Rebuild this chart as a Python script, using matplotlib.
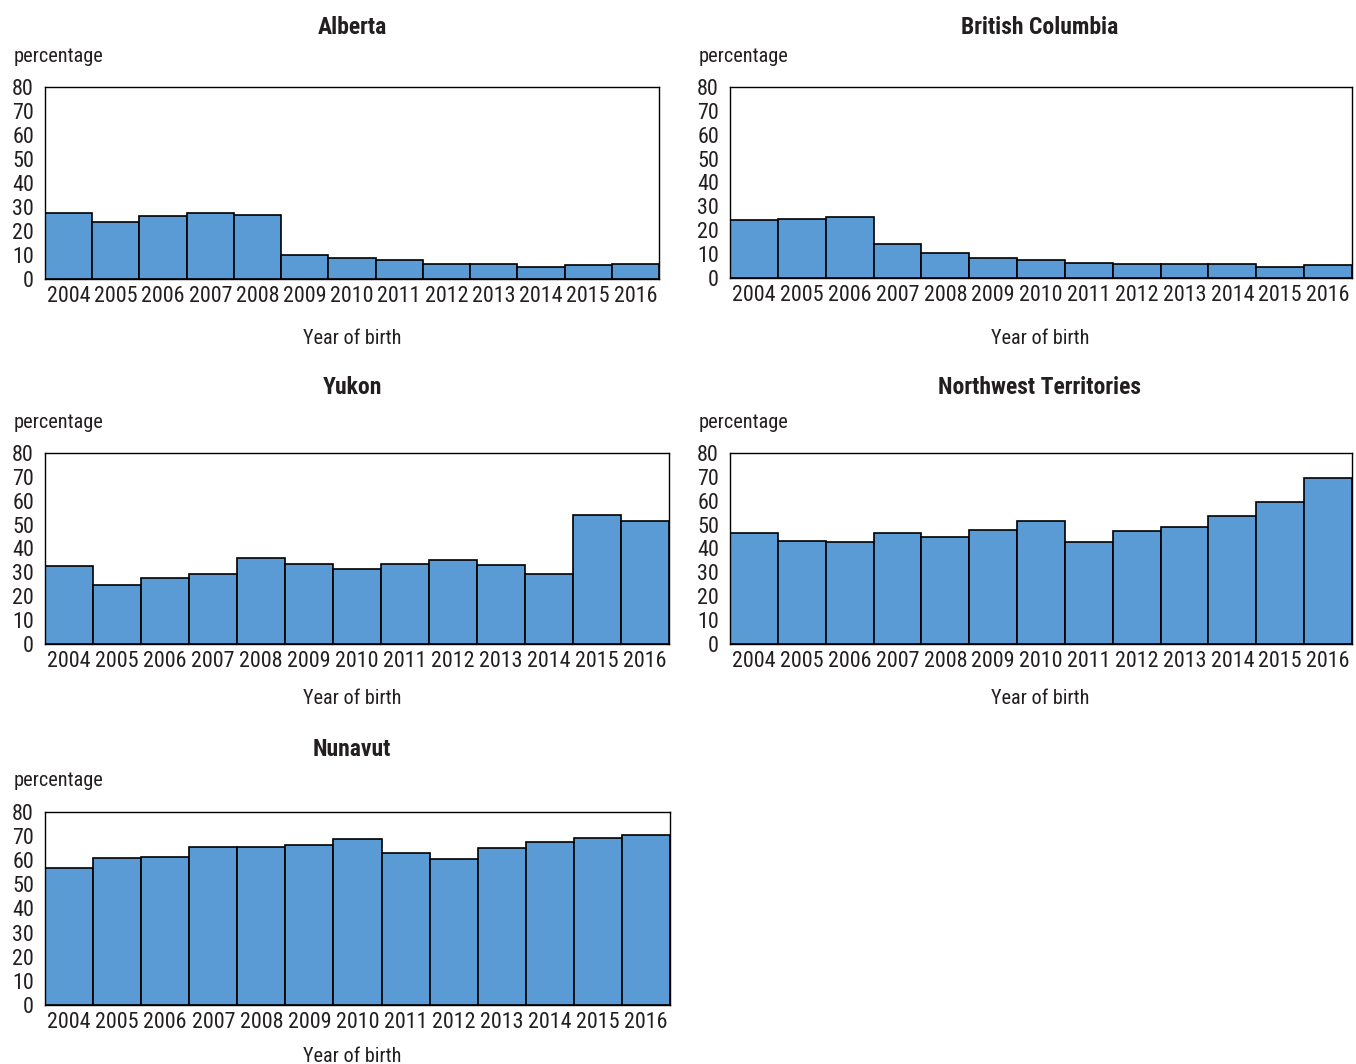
import matplotlib
matplotlib.use("Agg")
import matplotlib.pyplot as plt
import matplotlib.font_manager as fm
from matplotlib.textpath import TextPath
import numpy as np

years = ["2004", "2005", "2006", "2007", "2008", "2009", "2010",
         "2011", "2012", "2013", "2014", "2015", "2016"]

alberta = [27.4, 23.8, 26.4, 27.4, 26.8, 10.1, 8.9, 7.9, 6.4, 6.4, 5.1, 5.8, 6.4]
british_columbia = [24.3, 24.9, 25.4, 14.2, 10.5, 8.4, 7.4, 6.3, 5.9, 5.9, 5.9, 4.6, 5.3]
yukon = [32.5, 24.7, 27.7, 29.5, 36.2, 33.7, 31.6, 33.6, 35.1, 33.2, 29.4, 54.2, 51.4]
northwest_territories = [46.3, 43.2, 42.6, 46.3, 44.7, 47.8, 51.6, 42.6, 47.2, 48.9, 53.7, 59.4, 69.4]
nunavut = [56.7, 60.9, 61.5, 65.6, 65.6, 66.2, 68.8, 63.0, 60.5, 65.2, 67.7, 69.3, 70.4]

y_ticks = [0, 10, 20, 30, 40, 50, 60, 70, 80]


# ---- font selection: prefer a narrow sans if one is installed ----
def _weight(w):
    if isinstance(w, (int, float)):
        return int(w)
    return fm.weight_dict.get(str(w).lower(), 400)


def pick_font(target_weight):
    prefs = ["liberation sans narrow", "arial narrow", "roboto condensed",
             "noto sans", "open sans", "dejavu sans", "roboto"]
    best = None
    for f in fm.fontManager.ttflist:
        fn = f.fname.lower()
        nm = f.name.lower()
        tag = fn + " " + nm
        if "italic" in tag or "oblique" in tag:
            continue
        narrow = ("condensed" in tag or "narrow" in tag) and not any(
            k in tag for k in ("extracondensed", "extra condensed", "ultra", "semicondensed", "semi condensed"))
        if not narrow:
            continue
        rank = len(prefs)
        for i, p in enumerate(prefs):
            if nm.startswith(p):
                rank = i
                break
        key = (rank, abs(_weight(f.weight) - target_weight))
        if best is None or key < best[0]:
            best = (key, f.fname)
    if best is not None:
        return fm.FontProperties(fname=best[1])
    return fm.FontProperties(family="DejaVu Sans",
                             weight="bold" if target_weight >= 600 else "normal")


FP_REG = pick_font(400)
FP_BOLD = pick_font(700)


def size_for(text, prop, width_px):
    """Font size (pt) that makes `text` about `width_px` wide at 100 dpi."""
    w = TextPath((0, 0), text, size=100, prop=prop).get_extents().width
    return width_px / (w / 100.0) * 0.72


tick_size = min(size_for("2004", FP_REG, 42), 16)
title_size = min(size_for("Northwest Territories", FP_BOLD, 202), 17)
label_size = min(size_for("Year of birth", FP_REG, 97), 16)

W, H = 1356, 1064
fig = plt.figure(figsize=(W / 100, H / 100), dpi=100)

TEXT = "#231f20"
BAR = "#5b9bd5"

# (title, values, axes box left/top/right/bottom, column centre x,
#  title y, unit y, unit x, xlabel y) in pixels
panels = [
    ("Alberta", alberta, (45, 87, 659, 279), 352, 28, 57, 14, 339),
    ("British Columbia", british_columbia, (730, 87, 1352, 278), 1040, 28, 57, 699, 339),
    ("Yukon", yukon, (45, 453, 669, 644), 352, 388, 423, 14, 699),
    ("Northwest Territories", northwest_territories, (730, 453, 1352, 644), 1040, 388, 423, 699, 699),
    ("Nunavut", nunavut, (45, 812, 670, 1005), 352, 749, 781, 14, 1057),
]

for title, values, (l, t, r, b), cx, ty, uy, ux, xy in panels:
    ax = fig.add_axes([l / W, 1 - b / H, (r - l) / W, (b - t) / H])
    x = np.arange(len(years))
    ax.bar(x, values, width=1.0, color=BAR, edgecolor="black", linewidth=1.2)
    ax.set_xlim(-0.5, len(years) - 0.5)
    ax.set_ylim(0, 80)
    ax.set_yticks(y_ticks)
    ax.set_xticks(x)
    ax.tick_params(axis="both", length=0, colors=TEXT)
    ax.tick_params(axis="x", pad=5)
    ax.tick_params(axis="y", pad=8)
    ax.set_xticklabels(years, fontproperties=FP_REG, fontsize=tick_size, color=TEXT)
    ax.set_yticklabels([str(v) for v in y_ticks], fontproperties=FP_REG,
                       fontsize=tick_size, color=TEXT)
    for s in ax.spines.values():
        s.set_color("black")
        s.set_linewidth(1.0)
    fig.text(cx / W, 1 - ty / H, title, ha="center", va="center",
             fontproperties=FP_BOLD, fontsize=title_size, color=TEXT)
    fig.text(ux / W, 1 - uy / H, "percentage", ha="left", va="center",
             fontproperties=FP_REG, fontsize=label_size, color=TEXT)
    fig.text(cx / W, 1 - xy / H, "Year of birth", ha="center", va="center",
             fontproperties=FP_REG, fontsize=label_size, color=TEXT)

fig.savefig("out.png", dpi=100, facecolor="white")
